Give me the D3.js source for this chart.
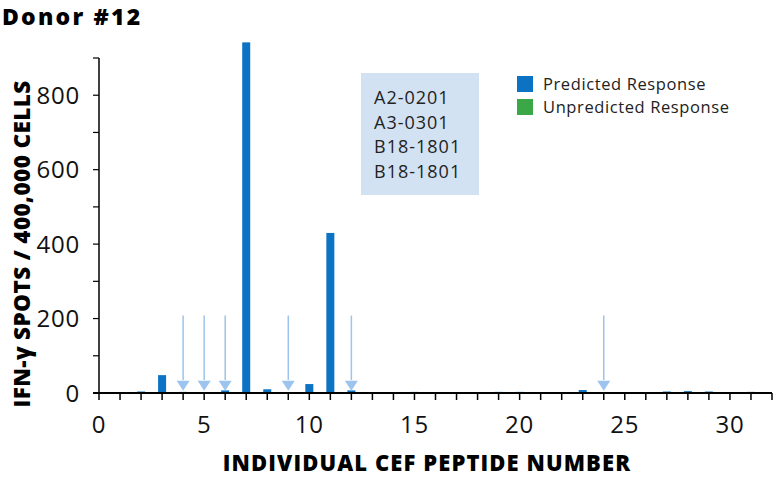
<!DOCTYPE html>
<html>
<head>
<meta charset="utf-8">
<script src="https://cdn.jsdelivr.net/npm/d3@7"></script>
<style>
  body { margin: 0; background: #fff; }
  svg { display: block; font-family: "Open Sans", "Noto Sans", sans-serif; }
</style>
</head>
<body>
<svg id="chart" width="774" height="478"></svg>
<script>
// peptide numbers and spot counts
var peptides = [2, 3, 4, 6, 7, 8, 10, 11, 12, 15, 19, 20, 23, 27, 28, 29, 31];
var spots    = [4, 48, 3, 7, 942, 10, 24, 430, 7, 3, 3, 3, 8, 4, 5, 4, 3];
var arrowPeptides = [4, 5, 6, 9, 12, 24];
var hlaAlleles = ["A2-0201", "A3-0301", "B18-1801", "B18-1801"];
var legendLabels = ["Predicted Response", "Unpredicted Response"];
var legendColors = ["#0b72c4", "#3aa846"];
var xTicks = [0, 5, 10, 15, 20, 25, 30];
var yTicks = [0, 200, 400, 600, 800];

var svg = d3.select("#chart");
var left = 99;

var x = d3.scaleLinear().domain([0, 32]).range([left, 772]);
var y = d3.scaleLinear().domain([0, 900]).range([393, 58]);

// title
svg.append("text")
  .attr("x", 2).attr("y", 25)
  .attr("font-size", 23).attr("font-weight", 800)
  .attr("letter-spacing", 2.2)
  .text("Donor #12");

// annotation box
var box = svg.append("g").attr("transform", "translate(361,73)");
box.append("rect").attr("width", 118).attr("height", 122).attr("fill", "#d3e2f3");
box.selectAll("text").data(hlaAlleles).enter().append("text")
  .attr("x", 13).attr("y", function(d, i) { return 31 + i * 24.7; })
  .attr("font-size", 18).attr("letter-spacing", 1).attr("fill", "#222")
  .text(function(d) { return d; });

// legend
var leg = svg.append("g").attr("transform", "translate(517,76)");
leg.selectAll("rect").data(legendColors).enter().append("rect")
  .attr("y", function(d, i) { return i * 23; })
  .attr("width", 16).attr("height", 16).attr("fill", function(d) { return d; });
leg.selectAll("text").data(legendLabels).enter().append("text")
  .attr("x", 26).attr("y", function(d, i) { return i * 23 + 14; })
  .attr("font-size", 16.5).attr("letter-spacing", 0.6).attr("fill", "#222")
  .text(function(d) { return d; });

// bars
var bw = 8;
svg.selectAll("rect.bar").data(peptides).enter().append("rect")
  .attr("class", "bar")
  .attr("x", function(d) { return x(d) - bw / 2; })
  .attr("y", function(d, i) { return y(spots[i]); })
  .attr("width", bw)
  .attr("height", function(d, i) { return y(0) - y(spots[i]); })
  .attr("fill", legendColors[0]);

// arrows
var arrowColor = "#9cc4ee";
var arr = svg.selectAll("g.arrow").data(arrowPeptides).enter().append("g")
  .attr("class", "arrow")
  .attr("transform", function(d) { return "translate(" + x(d) + ",0)"; });
arr.append("line")
  .attr("y1", y(208)).attr("y2", y(35))
  .attr("stroke", arrowColor).attr("stroke-width", 1.5);
arr.append("path")
  .attr("d", "M-6.5," + y(33) + "L6.5," + y(33) + "L0," + y(6) + "Z")
  .attr("fill", arrowColor);

// y axis
var yAxis = svg.append("g").attr("transform", "translate(" + left + ",0)");
yAxis.append("line").attr("y1", y(900)).attr("y2", y(0))
  .attr("stroke", "#000").attr("stroke-width", 1.5);
yAxis.selectAll("line.tick").data(d3.range(0, 901, 100)).enter().append("line")
  .attr("class", "tick")
  .attr("x1", -6).attr("x2", 0)
  .attr("y1", function(d) { return y(d); }).attr("y2", function(d) { return y(d); })
  .attr("stroke", "#000").attr("stroke-width", 1.2);
yAxis.selectAll("text").data(yTicks).enter().append("text")
  .attr("x", -19).attr("y", function(d) { return y(d); })
  .attr("dy", "0.36em").attr("text-anchor", "end")
  .attr("font-size", 24).attr("letter-spacing", 0.8).attr("fill", "#111")
  .text(function(d) { return d; });

// x axis
var xAxis = svg.append("g").attr("transform", "translate(0," + y(0) + ")");
xAxis.append("line").attr("x1", x(0) - 6).attr("x2", x(32))
  .attr("stroke", "#000").attr("stroke-width", 2);
xAxis.selectAll("line.tick").data(d3.range(0, 33)).enter().append("line")
  .attr("class", "tick")
  .attr("x1", function(d) { return x(d); }).attr("x2", function(d) { return x(d); })
  .attr("y1", 0).attr("y2", 7)
  .attr("stroke", "#000").attr("stroke-width", 1.5);
xAxis.selectAll("text").data(xTicks).enter().append("text")
  .attr("x", function(d) { return x(d); }).attr("y", 40)
  .attr("text-anchor", "middle")
  .attr("font-size", 24).attr("letter-spacing", 0.8).attr("fill", "#111")
  .text(function(d) { return d; });

// axis titles
svg.append("text")
  .attr("x", 427).attr("y", 471)
  .attr("text-anchor", "middle")
  .attr("font-size", 22).attr("font-weight", 800)
  .attr("letter-spacing", 1.1)
  .text("INDIVIDUAL CEF PEPTIDE NUMBER");
svg.append("text")
  .attr("transform", "translate(30,244) rotate(-90)")
  .attr("text-anchor", "middle")
  .attr("font-size", 22.5).attr("font-weight", 800)
  .attr("letter-spacing", 0.4)
  .text("IFN-γ SPOTS / 400,000 CELLS");
</script>
</body>
</html>
